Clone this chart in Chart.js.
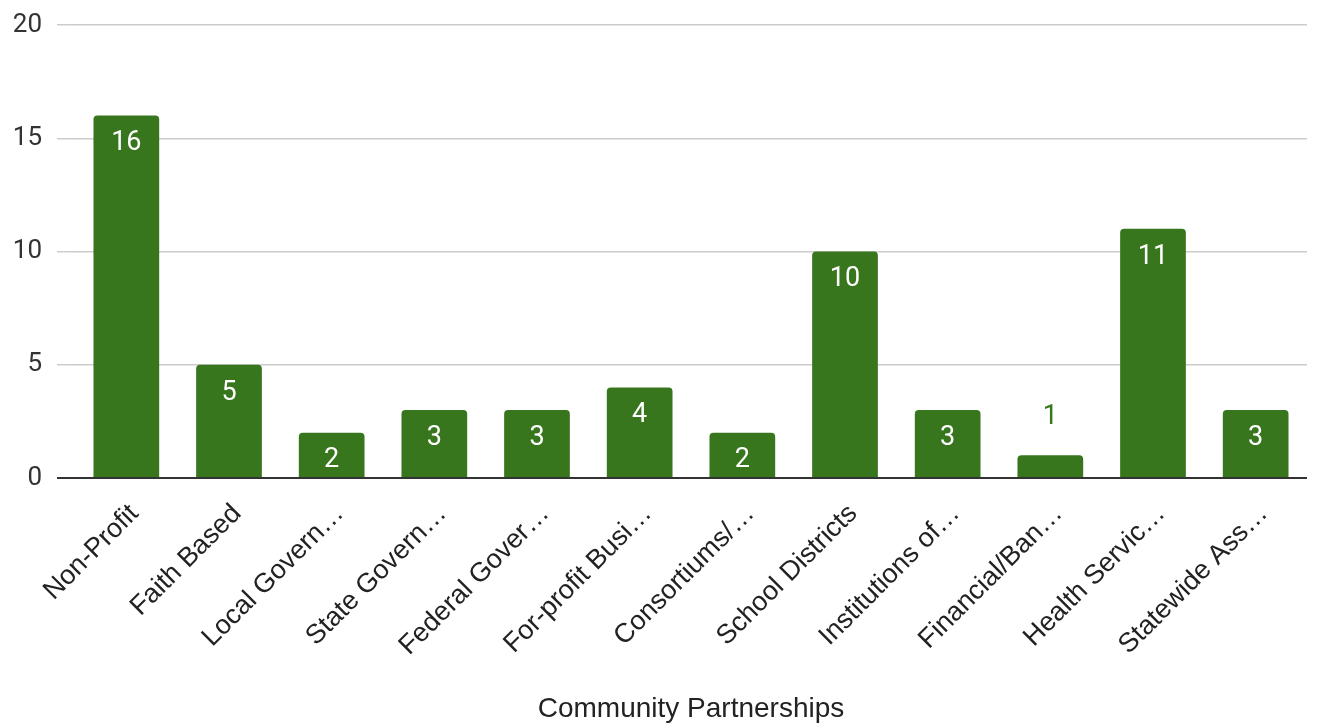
<!DOCTYPE html>
<html>
<head>
<meta charset="utf-8">
<script src="https://cdn.jsdelivr.net/npm/chart.js@4.4.1/dist/chart.umd.min.js"></script>
<style>
    html, body { margin: 0; padding: 0; background: #fff; }
    #wrap { width: 1331px; height: 727px; }
</style>
</head>
<body>
<div id="wrap"><canvas id="partners"></canvas></div>
<script>

const categories = [
    'Non-Profit', 'Faith Based', 'Local Govern…', 'State Govern…',
    'Federal Gover…', 'For-profit Busi…', 'Consortiums/…', 'School Districts',
    'Institutions of…', 'Financial/Ban…', 'Health Servic…', 'Statewide Ass…'
];
const counts = [16, 5, 2, 3, 3, 4, 2, 10, 3, 1, 11, 3];
const yTicks = [0, 5, 10, 15, 20];

const GREEN = '#38761d';


// value labels, white inside the bar or green above it when the bar is short
const valueLabels = {
    id: 'valueLabels',
    afterDatasetsDraw(chart) {
        const ctx = chart.ctx;
        const meta = chart.getDatasetMeta(0);
        ctx.save();
        ctx.font = '27px Roboto';
        ctx.textAlign = 'center';
        ctx.textBaseline = 'middle';
        meta.data.forEach((bar, i) => {
            const h = bar.base - bar.y;
            if (h > 35) {
                ctx.fillStyle = '#ffffff';
                ctx.fillText(counts[i], bar.x, bar.y + 28);
            } else {
                ctx.fillStyle = GREEN;
                ctx.fillText(counts[i], bar.x, bar.y - 38);
            }
        });
        ctx.restore();
    }
};


new Chart(document.getElementById('partners'), {
    type: 'bar',
    data: {
        labels: categories,
        datasets: [{
            data: counts,
            backgroundColor: GREEN,
            borderRadius: 4,
            borderSkipped: 'start',
            barPercentage: 0.64,
            categoryPercentage: 1
        }]
    },
    options: {
        responsive: true,
        maintainAspectRatio: false,
        animation: false,
        layout: { padding: { top: 25, right: 24, bottom: 1, left: 0 } },
        plugins: {
            legend: { display: false },
            tooltip: { enabled: false }
        },
        scales: {
            x: {
                grid: { display: false },
                border: { display: false },
                ticks: {
                    minRotation: 45,
                    maxRotation: 45,
                    autoSkip: false,
                    padding: 12,
                    labelOffset: 8,
                    color: '#222',
                    font: { family: 'Liberation Sans', size: 27 }
                },
                title: {
                    display: true,
                    text: 'Community Partnerships',
                    color: '#222',
                    font: { family: 'Liberation Sans', size: 28 },
                    padding: { top: 0, bottom: 0 }
                },
                afterFit(scale) {
                    scale.height = 248;
                    scale.paddingLeft = 0;
                    scale.paddingRight = 0;
                }
            },
            y: {
                min: 0,
                max: 20,
                afterBuildTicks(scale) {
                    scale.ticks = yTicks.map(v => ({ value: v }));
                },
                grid: {
                    color: c => c.tick && c.tick.value === 0 ? '#333' : '#cccccc',
                    lineWidth: c => c.tick && c.tick.value === 0 ? 2 : 1.5,
                    drawTicks: true,
                    tickLength: 18
                },
                border: { display: false },
                ticks: {
                    padding: 15,
                    color: '#333',
                    font: { family: 'Roboto', size: 26 }
                },
                afterFit(scale) {
                    scale.width = 75;
                    scale.paddingTop = 0;
                    scale.paddingBottom = 0;
                }
            }
        }
    },
    plugins: [valueLabels]
});
</script>
</body>
</html>
